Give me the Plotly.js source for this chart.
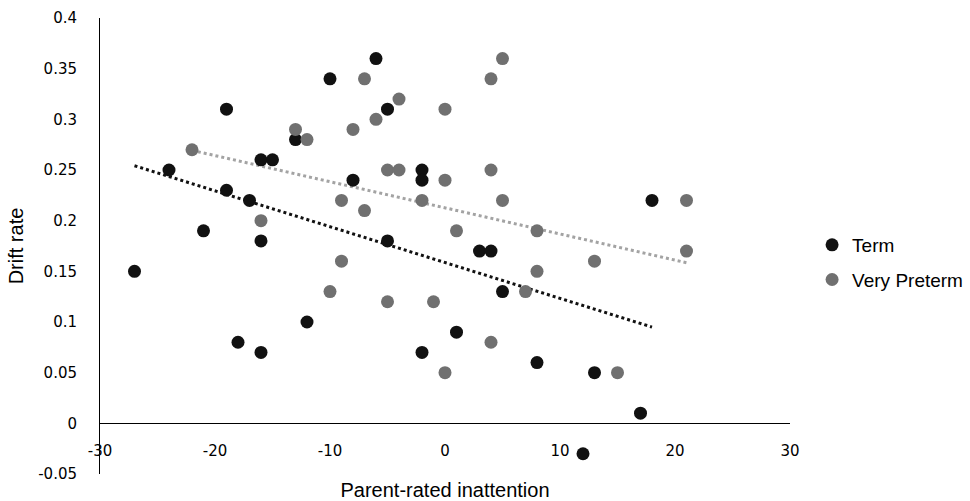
<!DOCTYPE html>
<html>
<head>
<meta charset="utf-8">
<script src="https://cdn.plot.ly/plotly-3.0.1.min.js"></script>
<style>html,body{margin:0;padding:0;background:#fff;}#chart{width:970px;height:501px;}</style>
</head>
<body>
<div id="chart"></div>
<script>
// Term group (black)
const termX = [-27, -24, -21, -19, -19, -18, -17, -16, -16, -16, -15, -13, -12, -10, -8, -6, -5, -5, -2, -2, -2, 1, 3, 4, 5, 8, 12, 13, 17, 18];
const termY = [0.15, 0.25, 0.19, 0.31, 0.23, 0.08, 0.22, 0.26, 0.18, 0.07, 0.26, 0.28, 0.10, 0.34, 0.24, 0.36, 0.31, 0.18, 0.25, 0.24, 0.07, 0.09, 0.17, 0.17, 0.13, 0.06, -0.03, 0.05, 0.01, 0.22];
// Very Preterm group (grey)
const vptX = [-22, -16, -13, -12, -10, -9, -9, -8, -7, -7, -6, -5, -5, -4, -4, -2, -1, 0, 0, 0, 1, 4, 4, 4, 5, 5, 7, 8, 8, 13, 15, 21, 21];
const vptY = [0.27, 0.20, 0.29, 0.28, 0.13, 0.22, 0.16, 0.29, 0.34, 0.21, 0.30, 0.25, 0.12, 0.32, 0.25, 0.22, 0.12, 0.31, 0.24, 0.05, 0.19, 0.34, 0.25, 0.08, 0.36, 0.22, 0.13, 0.19, 0.15, 0.16, 0.05, 0.22, 0.17];

const xTickVals = [-30, -20, -10, 0, 10, 20, 30];
const xTickText = ['-30', '-20', '-10', '0', '10', '20', '30'];
const yTickVals = [-0.05, 0, 0.05, 0.1, 0.15, 0.2, 0.25, 0.3, 0.35, 0.4];
const yTickText = ['-0.05', '0', '0.05', '0.1', '0.15', '0.2', '0.25', '0.3', '0.35', '0.4'];

function fitLine(xs, ys) {
  const n = xs.length;
  const mx = xs.reduce((a, b) => a + b, 0) / n;
  const my = ys.reduce((a, b) => a + b, 0) / n;
  let sxy = 0, sxx = 0;
  for (let i = 0; i < n; i++) { sxy += (xs[i] - mx) * (ys[i] - my); sxx += (xs[i] - mx) ** 2; }
  const b = sxy / sxx, a = my - b * mx;
  const x0 = Math.min(...xs), x1 = Math.max(...xs);
  return { x: [x0, x1], y: [a + b * x0, a + b * x1] };
}
const termFit = fitLine(termX, termY);
const vptFit = fitLine(vptX, vptY);

const traces = [
  { x: vptFit.x, y: vptFit.y, mode: 'lines', line: { color: '#a3a3a3', width: 3, dash: 'dot' }, showlegend: false, hoverinfo: 'skip' },
  { x: termFit.x, y: termFit.y, mode: 'lines', line: { color: '#111111', width: 3, dash: 'dot' }, showlegend: false, hoverinfo: 'skip' },
  { x: termX, y: termY, mode: 'markers', name: 'Term', legendgroup: 'a', marker: { color: '#111111', size: 13 } },
  { x: vptX, y: vptY, mode: 'markers', name: 'Very Preterm', legendgroup: 'b', marker: { color: '#707070', size: 13 } }
];

const layout = {
  width: 970, height: 501,
  margin: { l: 100, r: 180, t: 18, b: 27, autoexpand: false },
  paper_bgcolor: '#ffffff', plot_bgcolor: '#ffffff',
  showlegend: true,
  legend: { x: 1.032, xanchor: 'left', y: 0.544, yanchor: 'top', tracegroupgap: 7,
            font: { family: 'Liberation Sans, Arial, sans-serif', size: 19, color: '#000' }, bgcolor: 'rgba(0,0,0,0)' },
  xaxis: {
    range: [-30, 30], anchor: 'free', position: 0.05 / 0.45, automargin: false,
    showline: true, linecolor: '#000', linewidth: 1, showgrid: false, zeroline: false,
    tickmode: 'array', tickvals: xTickVals, ticktext: xTickText, ticks: '',
    ticklabelstandoff: 14,
    tickfont: { family: 'DejaVu Sans, sans-serif', size: 15, color: '#000' },
    title: { text: 'Parent-rated inattention', standoff: 26, font: { family: 'Liberation Sans, Arial, sans-serif', size: 20, color: '#000' } }
  },
  yaxis: {
    range: [-0.05, 0.4], automargin: false, showline: true, linecolor: '#000', linewidth: 1, showgrid: false, zeroline: false,
    tickmode: 'array', tickvals: yTickVals, ticktext: yTickText, ticks: '',
    ticklabelstandoff: 19,
    tickfont: { family: 'DejaVu Sans, sans-serif', size: 15, color: '#000' },
    title: { text: 'Drift rate', standoff: 9, font: { family: 'Liberation Sans, Arial, sans-serif', size: 20, color: '#000' } }
  }
};

Plotly.newPlot('chart', traces, layout, { displayModeBar: false, staticPlot: true });
</script>
</body>
</html>
